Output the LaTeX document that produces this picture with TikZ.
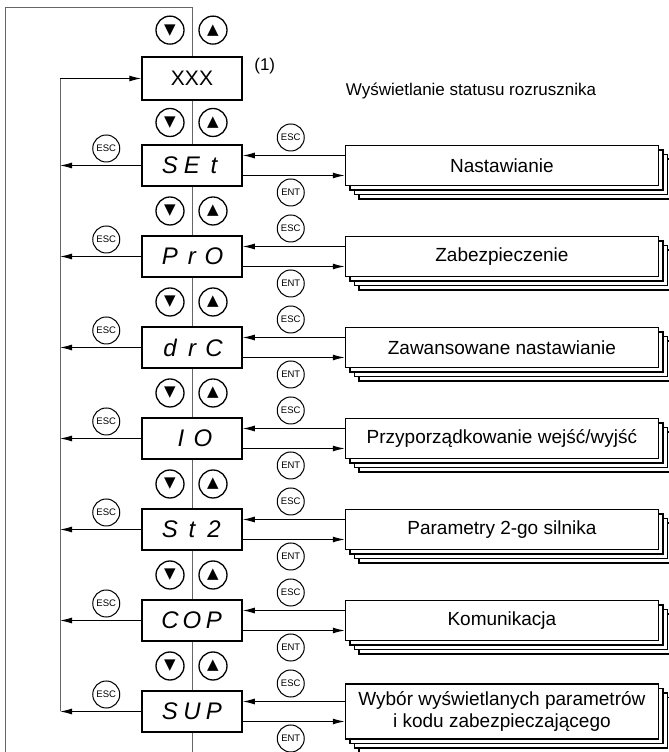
\documentclass[tikz,border=0pt]{standalone}
\usepackage{fontspec}
\setmainfont{Liberation Sans}
\newfontfamily\symfont{DejaVu Sans}
\usetikzlibrary{positioning,calc,arrows.meta,shadows}

\newcommand\seg[1]{\makebox[22pt]{#1}}

\begin{document}
\begin{tikzpicture}[x=1pt,y=1pt,node distance=48.5pt,
    disp/.style={draw,line width=1.5pt,fill=white,minimum width=100pt,minimum height=41pt,inner sep=0pt,
      font=\fontsize{24}{24}\selectfont\itshape},
    menu/.style={draw,line width=1.3pt,fill=white,minimum width=313pt,minimum height=40pt,align=center,
      font=\fontsize{19}{22}\selectfont,
      general shadow={draw,fill=white,line width=1.3pt,shadow xshift=13.5pt,shadow yshift=-13.5pt},
      general shadow={draw,fill=white,line width=1.3pt,shadow xshift=9pt,shadow yshift=-9pt},
      general shadow={draw,fill=white,line width=1.3pt,shadow xshift=4.5pt,shadow yshift=-4.5pt}},
    key/.style={circle,draw,line width=1pt,minimum size=27pt,inner sep=0pt,font=\fontsize{9.5}{9.5}\selectfont},
    btn/.style={circle,draw,line width=1.3pt,minimum size=28pt,inner sep=0pt,font=\symfont\fontsize{15}{15}\selectfont},
    arr/.style={-{Latex[length=12pt,width=6pt]},line width=1pt},
    vline/.style={line width=1pt,black!60}]
  \useasboundingbox (0,0) rectangle (669,752);
  % display boxes
  \node[disp,font=\fontsize{21}{21}\selectfont,minimum height=43pt] (xxx) at (192,673.5) {XXX};
  \node[disp,below=43.5pt of xxx] (set) {\seg{S}\seg{E}\seg{t}};
  \node[disp,below=of set] (pro) {\seg{P}\seg{r}\seg{O}};
  \node[disp,below=of pro] (drc) {\seg{d}\seg{r}\seg{C}};
  \node[disp,below=of drc] (io) {\seg{I}\seg{O}};
  \node[disp,below=of io] (st2) {\seg{S}\seg{t}\seg{2}};
  \node[disp,below=of st2] (cop) {\seg{C}\seg{O}\seg{P}};
  \node[disp,below=of cop] (sup) {\seg{S}\seg{U}\seg{P}};
  % menus
  \node[menu,right=102pt of set] (mset) {Nastawianie};
  \node[menu,right=102pt of pro] (mpro) {Zabezpieczenie};
  \node[menu,right=102pt of drc] (mdrc) {Zawansowane nastawianie};
  \node[menu,right=102pt of io] (mio) {Przyporządkowanie wejść/wyjść};
  \node[menu,right=102pt of st2] (mst2) {Parametry 2-go silnika};
  \node[menu,right=102pt of cop] (mcop) {Komunikacja};
  \node[menu,right=102pt of sup,minimum height=55pt] (msup) {Wybór wyświetlanych parametrów\\i kodu zabezpieczającego};
  \node[font=\fontsize{17}{17}\selectfont] (title) at (471,661) {Wyświetlanie statusu rozrusznika};
  \node[font=\fontsize{17}{17}\selectfont] (note) at ([shift={(22pt,-10pt)}]xxx.north east) {(1)};
  % loop round the displays
  \coordinate (topleft) at (5,744);
  \coordinate (topmid) at (topleft -| xxx);
  \coordinate (botleft) at (5,0);
  \coordinate (botmid) at (botleft -| xxx);
  \coordinate (ret) at (60,0);
  \draw[vline] (botleft) |- (topmid) -- (xxx.north);
  \draw[vline] (sup.south) -- (botmid);
  \coordinate (m0) at ([yshift=2pt]$(topmid)!.5!(xxx.north)$);
  \node[btn] (dn0) at ([xshift=-22pt]m0) {▼};
  \node[btn] (up0) at ([xshift=21pt]m0) {▲};
  \foreach \a/\b [count=\i] in {xxx/set,set/pro,pro/drc,drc/io,io/st2,st2/cop,cop/sup}{
    \draw[vline] (\a.south) -- (\b.north);
    \coordinate (m\i) at ($(\a.south)!.5!(\b.north)$);
    \node[btn] (dn\i) at ([xshift=-22pt]m\i) {▼};
    \node[btn] (up\i) at ([xshift=21pt]m\i) {▲};
  }
  \draw[vline] (sup.west -| ret) -- (xxx.west -| ret);
  \draw[arr] (xxx.west -| ret) -- (xxx.west);
  \foreach \r in {set,pro,drc,io,st2,cop,sup}{
    \draw[arr] (\r.west) -- (\r.west -| ret);
    \node[key] (escl-\r) at ([shift={(-35pt,17pt)}]\r.west) {ESC};
    \node[key] (escr-\r) at ([shift={(48pt,28pt)}]\r.east) {ESC};
    \node[key] (ent-\r) at ([shift={(48pt,-27pt)}]\r.east) {ENT};
    \draw[arr] ([yshift=10pt]m\r.west) -- ([yshift=10pt]\r.east);
    \draw[arr] ([yshift=-10pt]\r.east) -- ([yshift=-10pt]m\r.west);
  }
\end{tikzpicture}
\end{document}
